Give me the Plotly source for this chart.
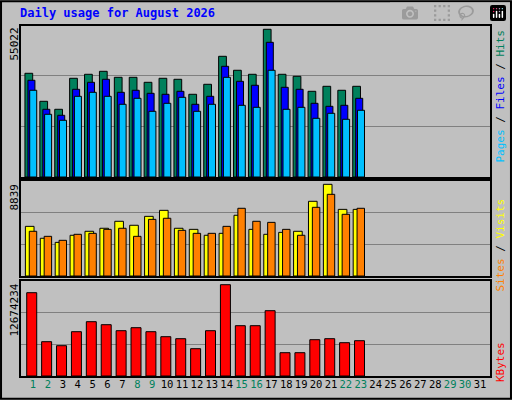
import plotly.graph_objects as go

days = list(range(1, 24))
hits = [37540, 27400, 24510, 35730, 37180, 38260, 36090, 36090, 34280, 35730, 35370, 29940,
        33560, 43690, 38630, 37180, 53470, 37180, 36450, 31020, 32830, 31390, 32830]
files = [35010, 24510, 22340, 31750, 34280, 35370, 30660, 31390, 30300, 29940, 31020, 26320,
         29210, 40070, 34640, 33200, 48760, 32470, 31750, 26680, 25590, 25950, 28490]
pages = [31390, 22700, 20530, 29210, 30660, 29210, 26320, 28490, 23780, 26680, 28850, 23780,
         26320, 36090, 25950, 25230, 38630, 24510, 25230, 21250, 23060, 20890, 24150]
visits = [4620, 3510, 3130, 3790, 4160, 4440, 5090, 4720, 5550, 6110, 4440, 4340,
          3790, 3970, 5650, 4340, 3880, 4060, 4160, 6950, 8530, 6200, 6200]
sites = [4160, 3690, 3320, 3880, 3970, 4340, 4440, 3690, 5270, 5370, 4250, 3970,
         3970, 4620, 6300, 5090, 4990, 4340, 3790, 6390, 7600, 5740, 6300]
kbytes = [11113000, 4576000, 4042000, 5910000, 7244000, 6844000, 6044000, 6444000, 5910000,
          5243000, 4976000, 3642000, 6044000, 12181000, 6711000, 6711000, 8712000, 3109000,
          3109000, 4843000, 4976000, 4443000, 4709000]
max_hits = 55022
max_visits = 8839
max_kbytes = 12674234
weekend = [1, 2, 8, 9, 15, 16, 22, 23, 29, 30]

W, H = 512, 400
px = lambda v: v / W
py = lambda v: 1 - v / H

fig = go.Figure()

def bar(y, color, offset, width, yaxis, name):
    fig.add_trace(go.Bar(x=days, y=y, offset=offset, width=width, name=name,
                         marker=dict(color=color, line=dict(color="black", width=1)),
                         yaxis=yaxis, xaxis="x"))

bar(hits, "#00805c", -0.54, 0.52, "y", "Hits")
bar(files, "#0000ff", -0.34, 0.47, "y", "Files")
bar(pages, "#00c0ff", -0.22, 0.47, "y", "Pages")
bar(visits, "#ffff00", -0.51, 0.58, "y2", "Visits")
bar(sites, "#ff8000", -0.25, 0.5, "y2", "Sites")
bar(kbytes, "#ff0000", -0.42, 0.67, "y3", "KBytes")

ticktext = []
for d in range(1, 32):
    c = "#00805c" if d in weekend else "black"
    ticktext.append(f"<span style='color:{c}'>{d}</span>")

xr = [0.128, 31.74]
def yax(domain, top, anchor):
    return dict(domain=domain, range=[0, top], tickvals=[top / 3, 2 * top / 3],
                showticklabels=False, showgrid=True, gridcolor="#808080", gridwidth=1,
                zeroline=False, anchor=anchor, fixedrange=True, automargin=False)

fig.update_layout(
    width=W, height=H, margin=dict(l=0, r=0, t=0, b=0, autoexpand=False),
    paper_bgcolor="#c0c0c0", plot_bgcolor="#c0c0c0",
    barmode="overlay", showlegend=False,
    font=dict(family="DejaVu Sans Mono", size=11, color="black"),
    xaxis=dict(domain=[px(20), px(491)], range=xr, tickvals=list(range(1, 32)),
               ticktext=ticktext, showgrid=False, zeroline=False, ticks="", tickangle=0,
               anchor="y3", fixedrange=True, automargin=False, tickfont=dict(size=10.5)),
    yaxis=yax([py(177), py(25)], max_hits, "x"),
    yaxis2=yax([py(276), py(181)], max_visits, "x"),
    yaxis3=yax([py(376), py(281)], max_kbytes, "x"),
)

shapes = [dict(type="rect", xref="paper", yref="paper", x0=0.002, y0=0.003, x1=0.998, y1=0.997,
               line=dict(color="black", width=2))]
for top, bot in [(25, 178), (180, 277), (280, 377)]:
    shapes.append(dict(type="rect", xref="paper", yref="paper", x0=px(20), x1=px(491),
                       y0=py(bot), y1=py(top), line=dict(color="black", width=2)))
fig.update_layout(shapes=shapes)

ann = [dict(text="<b>Daily usage for August 2026</b>", x=px(18), y=py(4), xref="paper", yref="paper",
            xanchor="left", yanchor="top", showarrow=False,
            font=dict(color="#0000ff", size=12, family="DejaVu Sans Mono"))]
for val, top in [(max_hits, 26), (max_visits, 182), (max_kbytes, 282)]:
    ann.append(dict(text=str(val), x=px(14), y=py(top), xref="paper", yref="paper", textangle=-90,
                    xanchor="center", yanchor="top", showarrow=False, font=dict(size=11)))
right = [
    ("<span style='color:#00c0ff'>Pages</span> / <span style='color:#0000ff'>Files</span> / "
     "<span style='color:#00805c'>Hits</span>", 28),
    ("<span style='color:#ff8000'>Sites</span> / <span style='color:#ffff00'>Visits</span>", 197),
    ("<span style='color:#ff0000'>KBytes</span>", 340),
]
for txt, top in right:
    ann.append(dict(text=txt, x=px(500), y=py(top), xref="paper", yref="paper", textangle=-90,
                    xanchor="center", yanchor="top", showarrow=False, font=dict(size=11)))
fig.update_layout(annotations=ann)

fig.write_html("out.html", post_script="document.body.style.margin='0';document.body.style.overflow='hidden';")
